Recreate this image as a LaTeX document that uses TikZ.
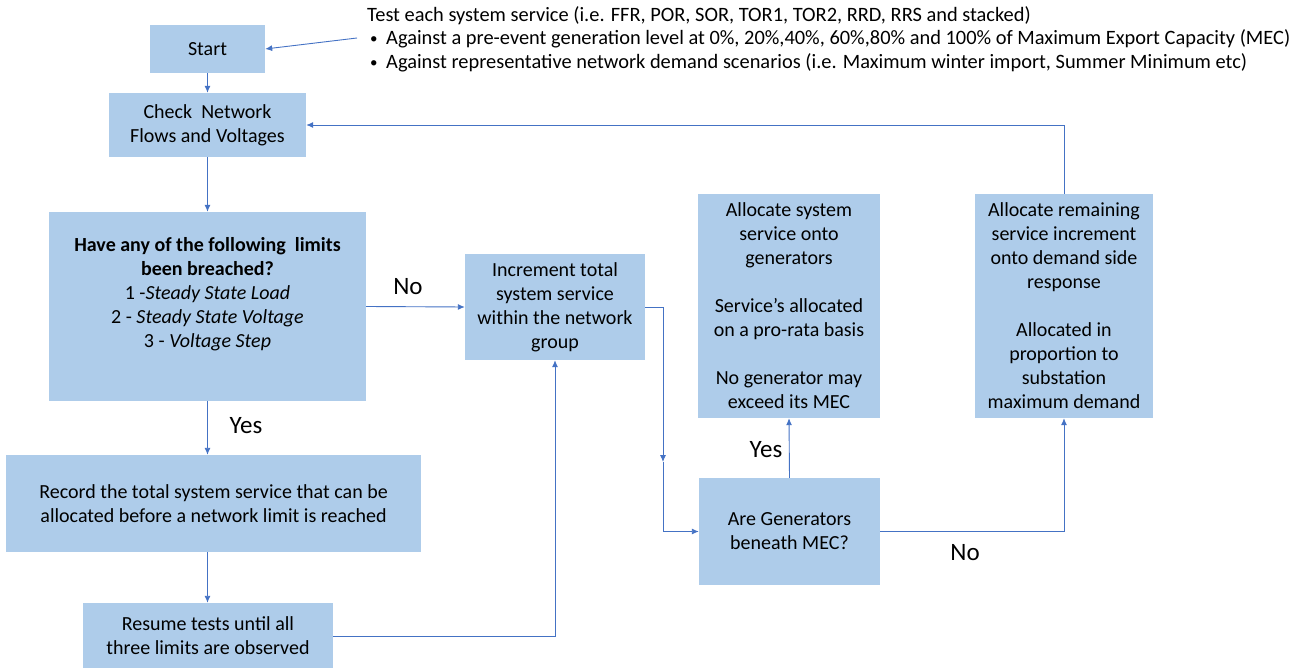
\documentclass[tikz,border=0pt]{standalone}
\usepackage{fontspec}
\setmainfont{Carlito}
\usetikzlibrary{arrows.meta}
\definecolor{boxfill}{RGB}{174,204,234}
\definecolor{linecol}{RGB}{68,114,196}
\newcommand{\smallbul}{\makebox[19pt][l]{\hspace{3pt}\raisebox{1pt}{\fontsize{15}{15}\selectfont\textbullet}}}
\tikzset{
  x=1pt,y=-1pt,
  box/.style={fill=boxfill,draw=none,inner sep=0pt,align=center,font=\fontsize{20}{24}\selectfont},
  txt/.style={inner sep=0pt,align=center,font=\fontsize{20}{24}\selectfont},
  lbl/.style={inner sep=0pt,font=\fontsize{25}{28}\selectfont},
  conn/.style={draw=linecol,line width=0.9pt,-{Latex[length=7pt,width=6pt]}},
}
\begin{document}
\begin{tikzpicture}
\useasboundingbox (0,0) rectangle (1296,668);
% boxes
\node[box,minimum width=115,minimum height=48] (start) at (207.5,49) {Start};
\node[box,minimum width=197,minimum height=64] (check) at (207.5,125) {Check\ \ Network\\Flows and Voltages};
\node[box,minimum width=317,minimum height=189] (dec) at (207.5,306.5) {};
\node[txt] (dectext) at (207.5,294) {\textbf{Have any of the following\ \ limits}\\\textbf{been breached?}\\1 -\textit{Steady State Load}\\2 - \textit{Steady State Voltage}\\3 - \textit{Voltage Step}};
\node[box,minimum width=415,minimum height=97] (record) at (213.5,503.5) {Record the total system service that can be\\allocated before a network limit is reached};
\node[box,minimum width=250,minimum height=66] (resume) at (208,636) {Resume tests until all\\three limits are observed};
\node[box,minimum width=180,minimum height=106] (incr) at (555,307) {Increment total\\system service\\within the network\\group};
\node[box,minimum width=182,minimum height=224] (allocsys) at (789,306) {Allocate system\\service onto\\generators\\[24pt]Service's allocated\\on a pro-rata basis\\[24pt]No generator may\\exceed its MEC};
\node[box,minimum width=178,minimum height=224] (allocrem) at (1064,306) {Allocate remaining\\service increment\\onto demand side\\response\\[24pt]Allocated in\\proportion to\\substation\\maximum demand};
\node[box,minimum width=181,minimum height=107] (aregen) at (789.5,531.5) {Are Generators\\beneath MEC?};
% note
\node[anchor=north west,inner sep=0pt,align=left,font=\fontsize{20.4}{23.5}\selectfont] (note) at (367,6) {Test each system service (i.e. FFR, POR, SOR, TOR1, TOR2, RRD, RRS and stacked)\\\smallbul Against a pre-event generation level at 0\%, 20\%,40\%, 60\%,80\% and 100\% of Maximum Export Capacity (MEC)\\\smallbul Against representative network demand scenarios (i.e. Maximum winter import, Summer Minimum etc)};
\coordinate (noteend) at (357,38);
\coordinate (bend) at (663,462);
% connectors
\draw[conn] (noteend) -- (start.east);
\draw[conn] (start.south) -- (check.north);
\draw[conn] (check.south) -- (dec.north);
\draw[conn] (dec.east) -- (incr.west);
\draw[conn] (dec.south) -- (dec.south |- record.north);
\draw[conn] (dec.south |- record.south) -- (dec.south |- resume.north);
\draw[conn] (resume.east) -| (incr.south);
\draw[conn] (incr.east) -| (bend);
\draw[conn] (bend) |- (aregen.west);
\draw[conn] (aregen.north) -- (allocsys.south);
\draw[conn] (aregen.east) -| (allocrem.south);
\draw[conn] (allocrem.north) |- (check.east);
% labels
\node[lbl] (lno1) at (408,287) {No};
\node[lbl] (lyes1) at (246,426) {Yes};
\node[lbl] (lyes2) at (766,450) {Yes};
\node[lbl] (lno2) at (965,553) {No};
\end{tikzpicture}
\end{document}
